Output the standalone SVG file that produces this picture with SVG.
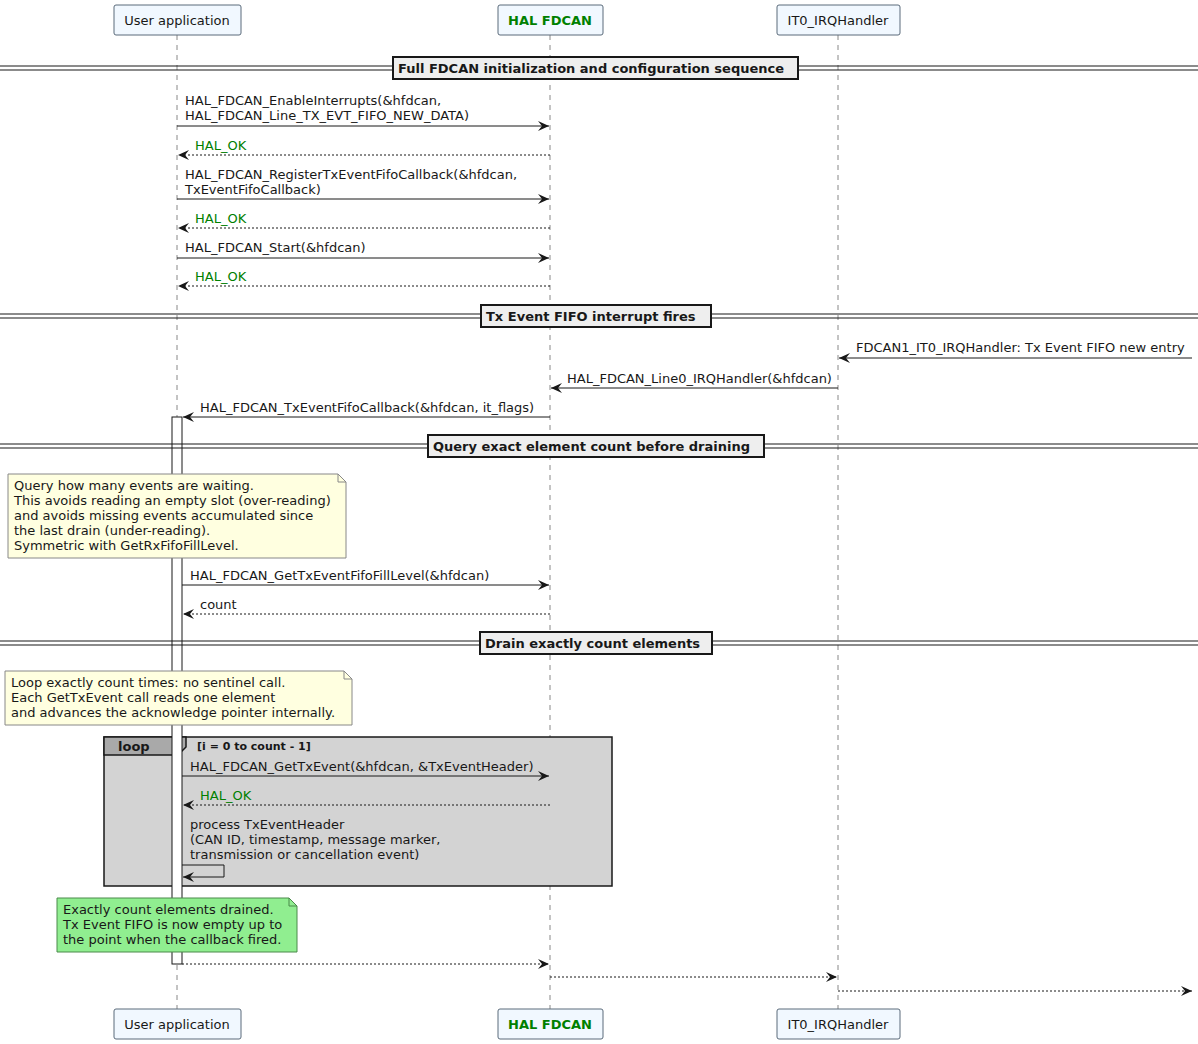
<svg xmlns="http://www.w3.org/2000/svg" width="1198" height="1044" viewBox="0 0 1198 1044">
<defs>
<marker id="ah" markerWidth="12" markerHeight="10" refX="11" refY="5" orient="auto" markerUnits="userSpaceOnUse"><path d="M0,0 L11,5 L0,10 L4,5 Z" fill="#181818"/></marker>
<style>
text{font-family:"DejaVu Sans",sans-serif;font-size:13px;fill:#181818}
.p rect{fill:#f1f8ff;stroke:#5a6a7a;stroke-width:1}
.life{stroke:#888;stroke-dasharray:5,5;stroke-width:1}
.m{stroke:#181818;stroke-width:1;fill:none;marker-end:url(#ah)}
.r{stroke:#181818;stroke-width:1;fill:none;stroke-dasharray:2,2;marker-end:url(#ah)}
.ok{fill:#008000}
.b{font-weight:bold}
.dv{stroke:#181818;stroke-width:1.2}
.dl{fill:#eeeeee;stroke:#181818;stroke-width:2}
.note{fill:#ffffe0;stroke:#888;stroke-width:1}
</style>
</defs>
<g id="lifelines">
<line class="life" x1="177" y1="35" x2="177" y2="1009"/>
<line class="life" x1="550" y1="35" x2="550" y2="1009"/>
<line class="life" x1="838" y1="35" x2="838" y2="1009"/>
</g>
<g id="loop">
<rect x="104" y="737" width="508" height="149" fill="#d3d3d3" stroke="#181818" stroke-width="1.5"/>
<path d="M104,737 H186 V747 L178,755 H104 Z" fill="#a9a9a9" stroke="#181818" stroke-width="1.5"/>
<text x="118" y="751" class="b">loop</text>
<text x="197" y="750" class="b" style="font-size:11px">[i = 0 to count - 1]</text>
</g>
<rect id="activation" x="172" y="417" width="10" height="547" fill="#fff" stroke="#181818"/>
<g id="p-user" class="p"><rect x="114" y="5" width="127" height="30" rx="2"/><text x="177" y="25" text-anchor="middle">User application</text></g>
<g id="p-hal" class="p"><rect x="498" y="5" width="105" height="30" rx="2"/><text x="550" y="25" text-anchor="middle" class="b" style="fill:#008000">HAL FDCAN</text></g>
<g id="p-irq" class="p"><rect x="777" y="5" width="123" height="30" rx="2"/><text x="838" y="25" text-anchor="middle">IT0_IRQHandler</text></g>
<g id="p-user-b" class="p"><rect x="114" y="1009" width="127" height="30" rx="2"/><text x="177" y="1029" text-anchor="middle">User application</text></g>
<g id="p-hal-b" class="p"><rect x="498" y="1009" width="105" height="30" rx="2"/><text x="550" y="1029" text-anchor="middle" class="b" style="fill:#008000">HAL FDCAN</text></g>
<g id="p-irq-b" class="p"><rect x="777" y="1009" width="123" height="30" rx="2"/><text x="838" y="1029" text-anchor="middle">IT0_IRQHandler</text></g>
<g id="dividers">
<line class="dv" x1="0" y1="66" x2="1198" y2="66"/><line class="dv" x1="0" y1="70" x2="1198" y2="70"/>
<rect class="dl" x="393" y="57" width="405" height="22"/><text x="398" y="73" class="b">Full FDCAN initialization and configuration sequence</text>
<line class="dv" x1="0" y1="314" x2="1198" y2="314"/><line class="dv" x1="0" y1="318" x2="1198" y2="318"/>
<rect class="dl" x="481" y="305" width="230" height="22"/><text x="486" y="321" class="b">Tx Event FIFO interrupt fires</text>
<line class="dv" x1="0" y1="444" x2="1198" y2="444"/><line class="dv" x1="0" y1="448" x2="1198" y2="448"/>
<rect class="dl" x="428" y="435" width="336" height="22"/><text x="433" y="451" class="b">Query exact element count before draining</text>
<line class="dv" x1="0" y1="641" x2="1198" y2="641"/><line class="dv" x1="0" y1="645" x2="1198" y2="645"/>
<rect class="dl" x="480" y="632" width="232" height="22"/><text x="485" y="648" class="b">Drain exactly count elements</text>
</g>
<g id="notes">
<path class="note" d="M8,474 H338 L346,482 V558 H8 Z"/><path d="M338,474 V482 H346" fill="none" stroke="#888"/>
<text x="14" y="490">Query how many events are waiting.</text>
<text x="14" y="505">This avoids reading an empty slot (over-reading)</text>
<text x="14" y="520">and avoids missing events accumulated since</text>
<text x="14" y="535">the last drain (under-reading).</text>
<text x="14" y="550">Symmetric with GetRxFifoFillLevel.</text>
<path class="note" d="M5,671 H344 L352,679 V725 H5 Z"/><path d="M344,671 V679 H352" fill="none" stroke="#888"/>
<text x="11" y="687">Loop exactly count times: no sentinel call.</text>
<text x="11" y="702">Each GetTxEvent call reads one element</text>
<text x="11" y="717">and advances the acknowledge pointer internally.</text>
<path d="M57,898 H289 L297,906 V952 H57 Z" fill="#90ee90" stroke="#4a8a4a"/><path d="M289,898 V906 H297" fill="none" stroke="#4a8a4a"/>
<text x="63" y="914">Exactly count elements drained.</text>
<text x="63" y="929">Tx Event FIFO is now empty up to</text>
<text x="63" y="944">the point when the callback fired.</text>
</g>
<g id="connectors">
<line class="m" x1="177" y1="126" x2="549" y2="126"/>
<text x="185" y="105">HAL_FDCAN_EnableInterrupts(&amp;hfdcan,</text><text x="185" y="120">  HAL_FDCAN_Line_TX_EVT_FIFO_NEW_DATA)</text>
<line class="r" x1="550" y1="155" x2="178" y2="155"/><text x="195" y="150" class="ok">HAL_OK</text>
<line class="m" x1="177" y1="199" x2="549" y2="199"/>
<text x="185" y="179">HAL_FDCAN_RegisterTxEventFifoCallback(&amp;hfdcan,</text><text x="185" y="194">  TxEventFifoCallback)</text>
<line class="r" x1="550" y1="228" x2="178" y2="228"/><text x="195" y="223" class="ok">HAL_OK</text>
<line class="m" x1="177" y1="258" x2="549" y2="258"/><text x="185" y="252">HAL_FDCAN_Start(&amp;hfdcan)</text>
<line class="r" x1="550" y1="286" x2="178" y2="286"/><text x="195" y="281" class="ok">HAL_OK</text>
<line class="m" x1="1192" y1="358" x2="839" y2="358"/><text x="856" y="352">FDCAN1_IT0_IRQHandler: Tx Event FIFO new entry</text>
<line class="m" x1="838" y1="388" x2="551" y2="388"/><text x="567" y="383">HAL_FDCAN_Line0_IRQHandler(&amp;hfdcan)</text>
<line class="m" x1="550" y1="417" x2="183" y2="417"/><text x="200" y="412">HAL_FDCAN_TxEventFifoCallback(&amp;hfdcan, it_flags)</text>
<line class="m" x1="182" y1="585" x2="549" y2="585"/><text x="190" y="580">HAL_FDCAN_GetTxEventFifoFillLevel(&amp;hfdcan)</text>
<line class="r" x1="550" y1="614" x2="183" y2="614"/><text x="200" y="609">count</text>
<line class="m" x1="182" y1="776" x2="549" y2="776"/><text x="190" y="771">HAL_FDCAN_GetTxEvent(&amp;hfdcan, &amp;TxEventHeader)</text>
<line class="r" x1="550" y1="805" x2="183" y2="805"/><text x="200" y="800" class="ok">HAL_OK</text>
<text x="190" y="829">process TxEventHeader</text><text x="190" y="844">(CAN ID, timestamp, message marker,</text><text x="190" y="859">transmission or cancellation event)</text>
<path class="m" d="M182,865 H224 V877 H183"/>
<line class="r" x1="182" y1="964" x2="549" y2="964"/>
<line class="r" x1="550" y1="977" x2="837" y2="977"/>
<line class="r" x1="838" y1="991" x2="1192" y2="991"/>
</g>
</svg>
